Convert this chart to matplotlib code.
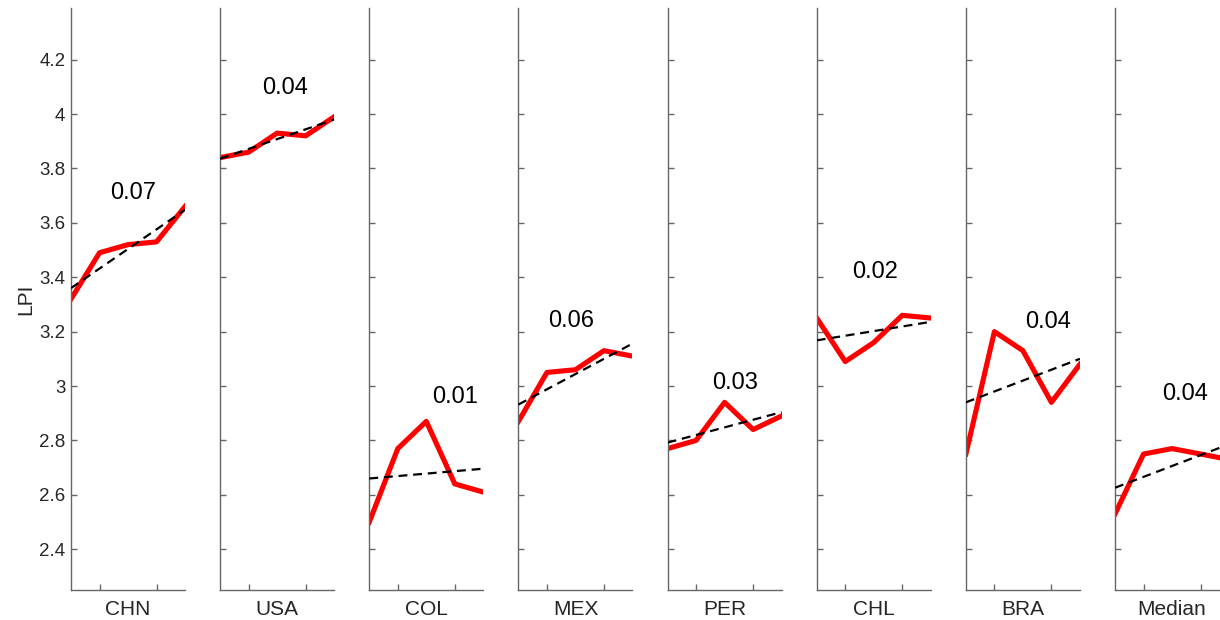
import numpy as np
import matplotlib
matplotlib.use('Agg')
import matplotlib.pyplot as plt

plt.rcParams['font.family'] = ['Liberation Sans', 'DejaVu Sans']

# LPI values per panel, 5 survey points each
years = [1, 2, 3, 4, 5]
countries = ['CHN', 'USA', 'COL', 'MEX', 'PER', 'CHL', 'BRA', 'Median']
chn = [3.32, 3.49, 3.52, 3.53, 3.66]
usa = [3.84, 3.86, 3.93, 3.92, 3.99]
col = [2.50, 2.77, 2.87, 2.64, 2.61]
mex = [2.87, 3.05, 3.06, 3.13, 3.11]
per = [2.77, 2.80, 2.94, 2.84, 2.89]
chl = [3.25, 3.09, 3.16, 3.26, 3.25]
bra = [2.75, 3.20, 3.13, 2.94, 3.08]
med = [2.53, 2.75, 2.77, 2.75, 2.73]
series = [chn, usa, col, mex, per, chl, bra, med]

# slope labels as printed
slope_txt = ['0.07', '0.04', '0.01', '0.06', '0.03', '0.02', '0.04', '0.04']
txt_x = [3.18, 3.28, 4.02, 2.86, 3.35, 3.04, 3.88, 3.46]
txt_y = [3.71, 4.095, 2.96, 3.24, 3.01, 3.42, 3.235, 2.97]

W, H = 1220.0, 620.0
fig = plt.figure(figsize=(12.2, 6.2), dpi=100)
fig.patch.set_facecolor('white')

spine_c = '#666666'
txt_c = '#262626'

for i in range(len(countries)):
    left = 71 + i * 149.15
    ax = fig.add_axes([left / W, 30 / H, 114 / W, 582 / H])
    y = np.array(series[i])
    x = np.array(years)
    p = np.polyfit(x, y, 1)
    ax.plot(x, np.polyval(p, x), color='black', lw=1.6, linestyle=(0, (4, 2.6)), zorder=3)
    ax.plot(x, y, color='red', lw=3.7, zorder=2)
    ax.text(txt_x[i], txt_y[i], slope_txt[i], fontsize=17, ha='center', va='center', color='black')

    ax.set_xlim(1, 5)
    ax.set_ylim(2.25, 4.39)
    ax.set_xticks([2, 4])
    ax.set_xticklabels([])
    ax.set_yticks(np.arange(2.4, 4.21, 0.2))
    ax.spines['top'].set_visible(False)
    ax.spines['right'].set_visible(False)
    for s in ['left', 'bottom']:
        ax.spines[s].set_color(spine_c)
        ax.spines[s].set_linewidth(1.0)
    ax.tick_params(direction='in', length=4.5, width=1.0, color=spine_c,
                   labelsize=13.5, labelcolor=txt_c, pad=4)
    ax.set_xlabel(countries[i], fontsize=15, color=txt_c, labelpad=3)
    if i == 0:
        ax.set_yticklabels(['%g' % round(v, 1) for v in np.arange(2.4, 4.21, 0.2)])
        ax.set_ylabel('LPI', fontsize=15, color=txt_c, labelpad=3)
    else:
        ax.set_yticklabels([])
    ax.patch.set_alpha(0)

fig.savefig('out.png', dpi=100)
